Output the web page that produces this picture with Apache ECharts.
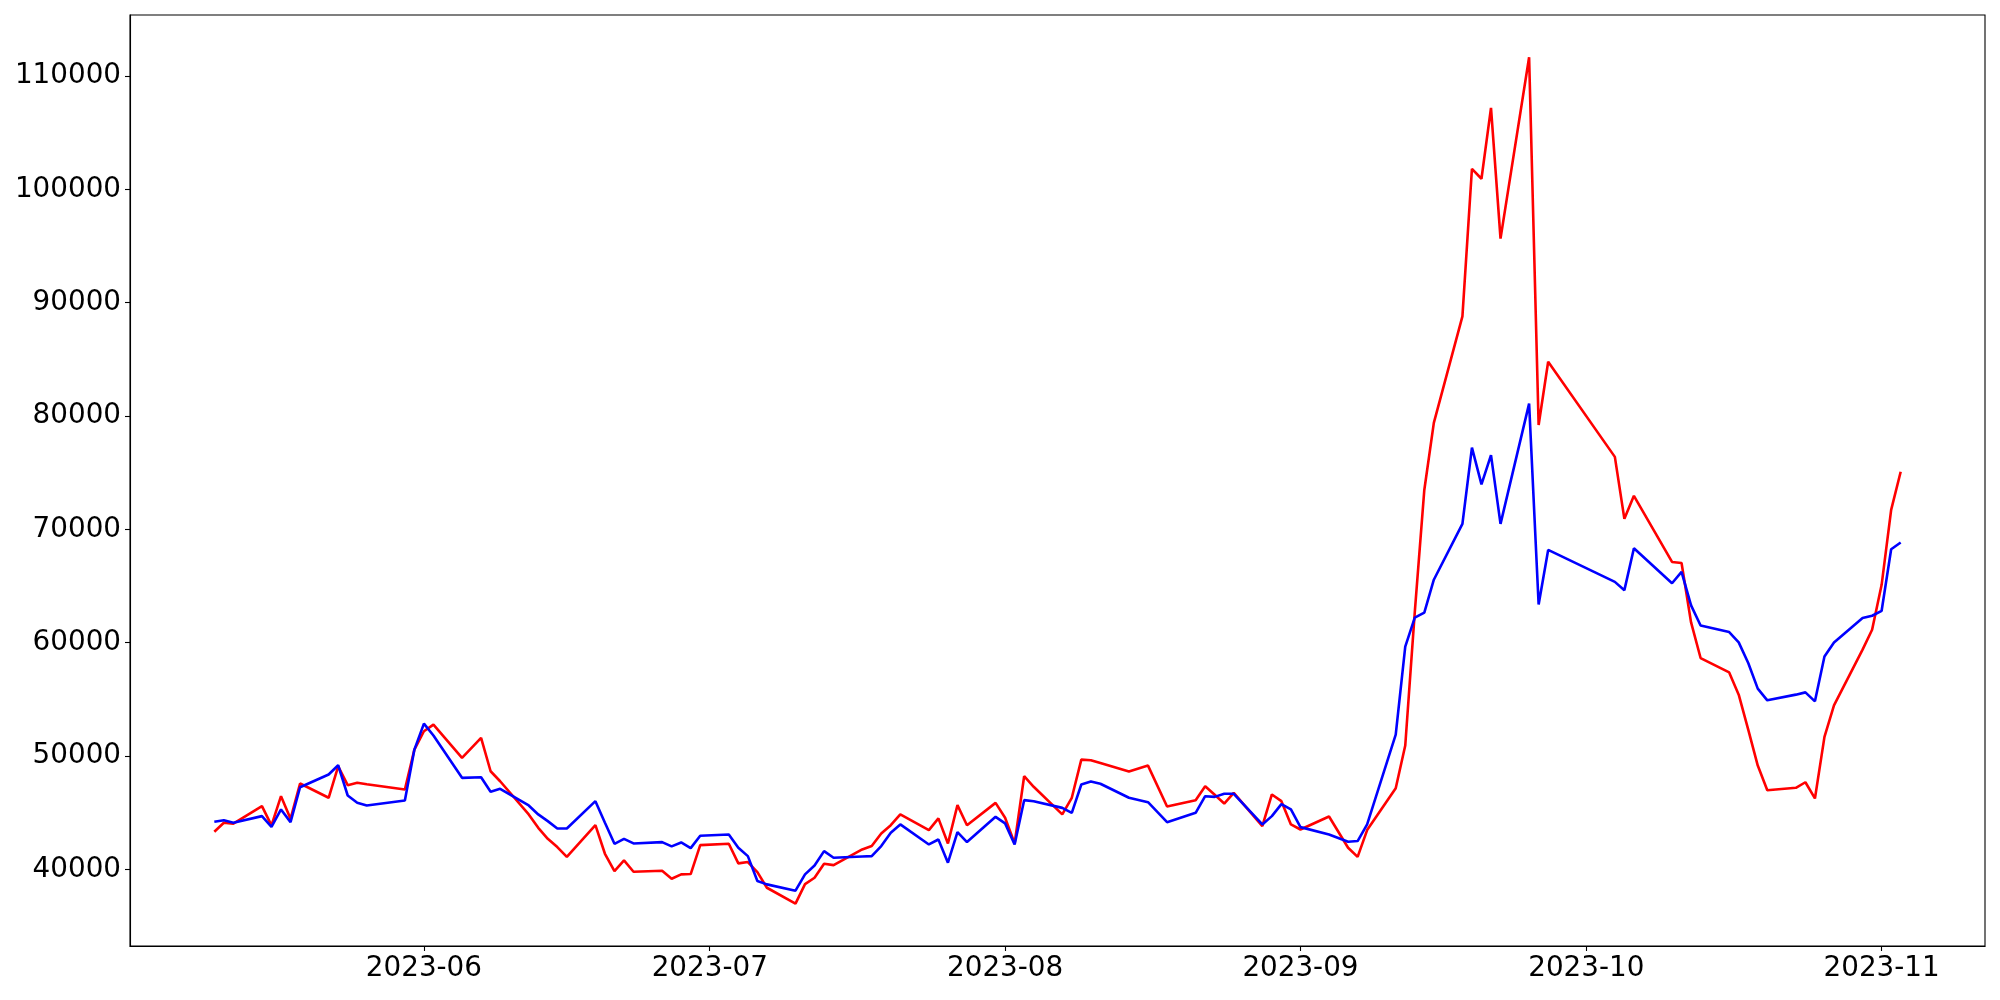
<!DOCTYPE html>
<html>
<head>
<meta charset="utf-8">
<script src="https://cdn.jsdelivr.net/npm/echarts@6/dist/echarts.min.js"></script>
<style>
html,body{margin:0;padding:0;background:#fff;}
#chart{width:2000px;height:1000px;}
</style>
</head>
<body>
<div id="chart"></div>
<script>
// Trading dates (YYYY-MM-DD)
const dates = [
 '2023-05-10','2023-05-11','2023-05-12','2023-05-15','2023-05-16','2023-05-17','2023-05-18','2023-05-19',
 '2023-05-22','2023-05-23','2023-05-24','2023-05-25','2023-05-26','2023-05-30','2023-05-31',
 '2023-06-01','2023-06-02','2023-06-05','2023-06-07','2023-06-08','2023-06-09',
 '2023-06-12','2023-06-13','2023-06-14','2023-06-15','2023-06-16','2023-06-19','2023-06-20','2023-06-21',
 '2023-06-22','2023-06-23','2023-06-26','2023-06-27','2023-06-28','2023-06-29','2023-06-30',
 '2023-07-03','2023-07-04','2023-07-05','2023-07-06','2023-07-07','2023-07-10','2023-07-11','2023-07-12',
 '2023-07-13','2023-07-14','2023-07-17','2023-07-18','2023-07-19','2023-07-20','2023-07-21',
 '2023-07-24','2023-07-25','2023-07-26','2023-07-27','2023-07-28','2023-07-31',
 '2023-08-01','2023-08-02','2023-08-03','2023-08-04','2023-08-07','2023-08-08','2023-08-09','2023-08-10',
 '2023-08-11','2023-08-14','2023-08-16','2023-08-18','2023-08-21','2023-08-22','2023-08-23','2023-08-24',
 '2023-08-25','2023-08-28','2023-08-29','2023-08-30','2023-08-31',
 '2023-09-01','2023-09-04','2023-09-06','2023-09-07','2023-09-08','2023-09-11','2023-09-12','2023-09-13',
 '2023-09-14','2023-09-15','2023-09-18','2023-09-19','2023-09-20','2023-09-21','2023-09-22',
 '2023-09-25','2023-09-26','2023-09-27',
 '2023-10-04','2023-10-05','2023-10-06','2023-10-10','2023-10-11','2023-10-12','2023-10-13',
 '2023-10-16','2023-10-17','2023-10-18','2023-10-19','2023-10-20','2023-10-23','2023-10-24','2023-10-25',
 '2023-10-26','2023-10-27','2023-10-30','2023-10-31','2023-11-01','2023-11-02','2023-11-03'
];

const redValues = [
 43320,44120,44030,45580,43880,46460,44470,47580,
 46320,49100,47430,47640,47510,47050,50570,
 52190,52780,49840,51600,48660,47780,
 44850,43670,42700,41970,41110,43900,41380,39850,
 40790,39790,39880,39180,39560,39590,42140,
 42260,40530,40650,39760,38380,36975,38700,39260,
 40500,40380,41760,42060,43170,43900,44850,
 43470,44500,42290,45670,43900,45870,
 44560,42290,48220,47290,44850,46320,49690,49630,
 49380,48630,49160,45550,46110,47340,46580,45810,
 46760,43820,46610,46020,43970,
 43520,44670,41910,41110,43470,47160,50930,62700,
 73480,79400,88800,101820,100940,107200,95660,
 111656,79210,84790,
 76400,70930,72960,67130,67040,61790,58650,
 57380,55420,52330,49160,46990,47200,47690,46260,
 51690,54480,59390,61150,65110,71720,75090
];

const blueValues = [
 44200,44340,44120,44700,43760,45290,44170,47250,
 48370,49190,46520,45880,45640,46080,50570,
 52860,51810,48080,48130,46850,47110,
 45640,44850,44260,43610,43610,46020,44120,42260,
 42700,42290,42410,42030,42380,41880,42970,
 43080,41910,41170,38970,38680,38120,39560,40350,
 41610,41030,41140,41170,42060,43230,43970,
 42200,42640,40590,43290,42410,44640,
 44060,42200,46110,46020,45430,44990,47490,47750,
 47560,46320,45930,44170,44990,46460,46400,46670,
 46670,43970,44700,45760,45290,
 43730,43080,42440,42500,43970,51890,59650,62220,
 62660,65560,70490,77210,73980,76560,70490,
 81100,63370,68190,
 65370,64640,68340,65250,66250,63300,61520,
 60940,60030,58210,55950,54920,55420,55620,54830,
 58790,60030,62180,62380,62820,68250,68840
];

const xTickLabels = ['2023-06','2023-07','2023-08','2023-09','2023-10','2023-11'];
const yTickLabels = [40000,50000,60000,70000,80000,90000,100000,110000];

function toTime(s){
  const p = s.split('-').map(Number);
  return Date.UTC(p[0], p[1]-1, p[2] || 1);
}

const redData = dates.map((d,i)=>[toTime(d), redValues[i]]);
const blueData = dates.map((d,i)=>[toTime(d), blueValues[i]]);

// matplotlib-like 5% margins
const tMin = toTime(dates[0]), tMax = toTime(dates[dates.length-1]);
const tPad = (tMax - tMin) * 0.05;
const allV = redValues.concat(blueValues);
const vMin = Math.min.apply(null, allV), vMax = Math.max.apply(null, allV);
const vPad = (vMax - vMin) * 0.05;

const xTicks = xTickLabels.map(toTime);
const xLabelMap = {};
xTicks.forEach((t,i)=>{ xLabelMap[t] = xTickLabels[i]; });

const font = 'DejaVu Sans';
const chart = echarts.init(document.getElementById('chart'), null, {renderer:'canvas'});
chart.setOption({
  animation: false,
  backgroundColor: '#ffffff',
  grid: {
    left: 130, right: 15, top: 15, bottom: 54,
    show: true, borderColor: '#000', borderWidth: 1.1, backgroundColor: 'transparent'
  },
  xAxis: {
    type: 'value',
    min: tMin - tPad,
    max: tMax + tPad,
    scale: true,
    splitLine: {show:false},
    axisLine: {show:true, onZero:false, lineStyle:{color:'#000', width:1.1}},
    axisTick: {show:true, inside:false, length:5, lineStyle:{color:'#000', width:1.1}, customValues: xTicks},
    axisLabel: {
      show:true, color:'#000', fontFamily: font, fontSize: 27.8, margin: 9,
      customValues: xTicks,
      formatter: function(v){ return xLabelMap[v] !== undefined ? xLabelMap[v] : ''; }
    }
  },
  yAxis: {
    type: 'value',
    min: vMin - vPad,
    max: vMax + vPad,
    scale: true,
    splitLine: {show:false},
    axisLine: {show:true, onZero:false, lineStyle:{color:'#000', width:1.1}},
    axisTick: {show:true, inside:false, length:5, lineStyle:{color:'#000', width:1.1}, customValues: yTickLabels},
    axisLabel: {
      show:true, color:'#000', fontFamily: font, fontSize: 27.8, margin: 9,
      customValues: yTickLabels,
      formatter: function(v){ return String(v); }
    }
  },
  series: [
    {type:'line', data: redData, symbol:'none', showSymbol:false,
     lineStyle:{color:'#ff0000', width:2.6}, itemStyle:{color:'#ff0000'}, z:2},
    {type:'line', data: blueData, symbol:'none', showSymbol:false,
     lineStyle:{color:'#0000ff', width:2.6}, itemStyle:{color:'#0000ff'}, z:3}
  ]
});
</script>
</body>
</html>
